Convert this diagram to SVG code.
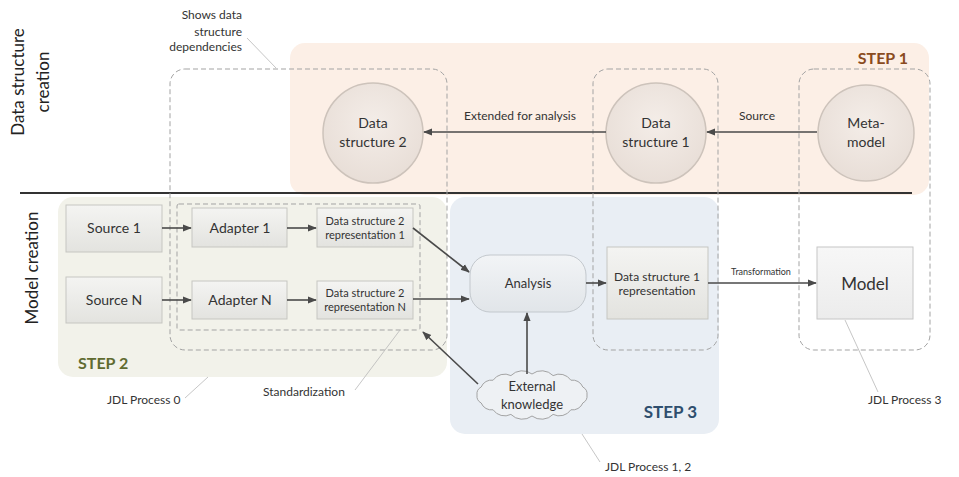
<svg xmlns="http://www.w3.org/2000/svg" width="959" height="477" viewBox="0 0 959 477">
<defs>
<marker id="ah" viewBox="0 0 10 10" refX="9" refY="5" markerWidth="9" markerHeight="9" markerUnits="userSpaceOnUse" orient="auto"><path d="M0,1 L10,5 L0,9 z" fill="#4a4a4a"/></marker>
<linearGradient id="boxg" x1="0" y1="0" x2="0" y2="1"><stop offset="0" stop-color="#f4f4f2"/><stop offset="1" stop-color="#e3e3df"/></linearGradient>
<linearGradient id="modg" x1="0" y1="0" x2="0" y2="1"><stop offset="0" stop-color="#f7f7f7"/><stop offset="1" stop-color="#ececec"/></linearGradient>
<linearGradient id="anag" x1="0" y1="0" x2="0" y2="1"><stop offset="0" stop-color="#f2f4f6"/><stop offset="1" stop-color="#e1e5e9"/></linearGradient>
<radialGradient id="circg" cx="0.5" cy="0.4" r="0.6"><stop offset="0" stop-color="#f4ede8"/><stop offset="1" stop-color="#e8ded7"/></radialGradient>
</defs>
<style>
text{font-family:Lato,"Open Sans","Liberation Sans",sans-serif;fill:#333}
.box{fill:url(#boxg);stroke:#c6c6c1;stroke-width:1}
.dash{fill:none;stroke:#a3a3a3;stroke-width:1;stroke-dasharray:5 3}
.circ{fill:url(#circg);stroke:#cdc3bb;stroke-width:1.5}
.conn{stroke:#4a4a4a;stroke-width:1.6;fill:none;marker-end:url(#ah)}
.lead{stroke:#b8b8b8;stroke-width:0.8;fill:none}
.c{text-anchor:middle}
.lbl{font-size:12px}
.step{font-size:16px;font-weight:bold}
.side{font-size:17px;fill:#222}
</style>

<g id="backgrounds">
<rect id="step1-area" x="290" y="43" width="639" height="152" rx="15" fill="#fcefe6"/>
<rect id="step2-area" x="58" y="197" width="389" height="180" rx="15" fill="#f2f2ea"/>
<rect id="step3-area" x="450" y="197" width="269" height="237" rx="15" fill="#e9eef4"/>
<line x1="20" y1="193" x2="912" y2="193" stroke="#333" stroke-width="2"/>
</g>

<g id="side-labels">
<text class="side c" transform="translate(24,82) rotate(-90)">Data structure</text>
<text class="side c" transform="translate(49,82) rotate(-90)">creation</text>
<text class="side c" transform="translate(38,268) rotate(-90)">Model creation</text>
</g>

<g id="groups">
<rect id="dependencies-group" class="dash" x="170" y="69" width="277" height="281" rx="15"/>
<rect id="standardization-group" class="dash" x="177" y="204" width="243" height="126" rx="2"/>
<rect id="ds1-group" class="dash" x="593" y="69" width="125" height="281" rx="15"/>
<rect id="meta-group" class="dash" x="799" y="69" width="131" height="281" rx="15"/>
<text class="step" x="908" y="64" text-anchor="end" style="fill:#8a4b20">STEP 1</text>
<text class="step" x="78" y="369" style="fill:#606b30">STEP 2</text>
<text class="step" x="697" y="418" text-anchor="end" style="fill:#2f4e6e;font-size:17px">STEP 3</text>
</g>

<g id="annotations">
<text class="lbl" x="242" y="19" text-anchor="end">Shows data</text>
<text class="lbl" x="242" y="36" text-anchor="end">structure</text>
<text class="lbl" x="242" y="51" text-anchor="end">dependencies</text>
<line class="lead" x1="247" y1="38" x2="276" y2="68"/>
<text class="lbl" x="107" y="404">JDL Process 0</text>
<line class="lead" x1="185" y1="398" x2="208" y2="377"/>
<text class="lbl" x="263" y="396">Standardization</text>
<line class="lead" x1="355" y1="390" x2="400" y2="330"/>
<text class="lbl" x="605" y="471">JDL Process 1, 2</text>
<line class="lead" x1="582" y1="434" x2="600" y2="462"/>
<text class="lbl" x="868" y="404">JDL Process 3</text>
<line class="lead" x1="845" y1="320" x2="878" y2="392"/>
</g>

<g id="node-ds2"><circle class="circ" cx="373" cy="133" r="50"/><text class="c" x="373" y="128" font-size="14">Data</text><text class="c" x="373" y="147" font-size="14">structure 2</text></g>
<g id="node-ds1"><circle class="circ" cx="656" cy="133" r="50"/><text class="c" x="656" y="128" font-size="14">Data</text><text class="c" x="656" y="147" font-size="14">structure 1</text></g>
<g id="node-meta"><circle class="circ" cx="866" cy="133" r="48"/><text class="c" x="866" y="128" font-size="14">Meta-</text><text class="c" x="866" y="147" font-size="14">model</text></g>

<g id="node-source1"><rect class="box" x="66" y="205" width="96" height="47"/><text class="c" x="114" y="233" font-size="14">Source 1</text></g>
<g id="node-sourceN"><rect class="box" x="66" y="277" width="96" height="46"/><text class="c" x="114" y="305" font-size="14">Source N</text></g>
<g id="node-adapter1"><rect class="box" x="192" y="208" width="95" height="39"/><text class="c" x="240" y="233" font-size="14">Adapter 1</text></g>
<g id="node-adapterN"><rect class="box" x="192" y="281" width="95" height="38"/><text class="c" x="240" y="305" font-size="14">Adapter N</text></g>
<g id="node-rep1"><rect class="box" x="317" y="208" width="96" height="39"/><text class="c" x="365" y="225" font-size="11">Data structure 2</text><text class="c" x="365" y="239" font-size="11">representation 1</text></g>
<g id="node-repN"><rect class="box" x="317" y="281" width="96" height="38"/><text class="c" x="365" y="297" font-size="11">Data structure 2</text><text class="c" x="365" y="311" font-size="11">representation N</text></g>
<g id="node-analysis"><rect x="470" y="255" width="116" height="57" rx="20" fill="url(#anag)" stroke="#c3c8cd"/><text class="c" x="528" y="288" font-size="13">Analysis</text></g>
<g id="node-ds1rep"><rect class="box" x="607" y="247" width="101" height="72"/><text class="c" x="657" y="281" font-size="12">Data structure 1</text><text class="c" x="657" y="295" font-size="12">representation</text></g>
<g id="node-model"><rect x="817" y="247" width="96" height="72" fill="url(#modg)" stroke="#c6c6c6"/><text class="c" x="865" y="290" font-size="17">Model</text></g>
<g id="node-external"><path d="M587,395 A8,8 0 0 1 582.8,403 A11,11 0 0 1 570.9,409.8 A14,14 0 0 1 553.1,414.4 A16,16 0 0 1 532,416 A16,16 0 0 1 510.9,414.4 A14,14 0 0 1 493.1,409.8 A11,11 0 0 1 481.2,403 A8,8 0 0 1 477,395 A8,8 0 0 1 481.2,387 A11,11 0 0 1 493.1,380.2 A14,14 0 0 1 510.9,375.6 A16,16 0 0 1 532,374 A16,16 0 0 1 553.1,375.6 A14,14 0 0 1 570.9,380.2 A11,11 0 0 1 582.8,387 A8,8 0 0 1 587,395 Z" fill="#eef1f4" stroke="#9a9a9a" stroke-width="0.9"/><text class="c" x="532" y="391" font-size="13">External</text><text class="c" x="532" y="409" font-size="13">knowledge</text></g>

<g id="connectors">
<line class="conn" x1="606" y1="132" x2="424" y2="132"/>
<text class="lbl c" x="520" y="120">Extended for analysis</text>
<line class="conn" x1="817" y1="132" x2="707" y2="132"/>
<text class="lbl c" x="757" y="120">Source</text>
<line class="conn" x1="162" y1="228" x2="191" y2="228"/>
<line class="conn" x1="162" y1="300" x2="191" y2="300"/>
<line class="conn" x1="287" y1="228" x2="316" y2="228"/>
<line class="conn" x1="287" y1="300" x2="316" y2="300"/>
<line class="conn" x1="413" y1="228" x2="469" y2="272"/>
<line class="conn" x1="413" y1="299" x2="469" y2="299"/>
<line class="conn" x1="586" y1="283" x2="606" y2="283"/>
<line class="conn" x1="708" y1="283" x2="816" y2="283"/>
<text class="c" x="761" y="275" font-size="9">Transformation</text>
<line class="conn" x1="527" y1="374" x2="527" y2="313"/>
<line class="conn" x1="478" y1="384" x2="423" y2="332"/>
</g>
</svg>
